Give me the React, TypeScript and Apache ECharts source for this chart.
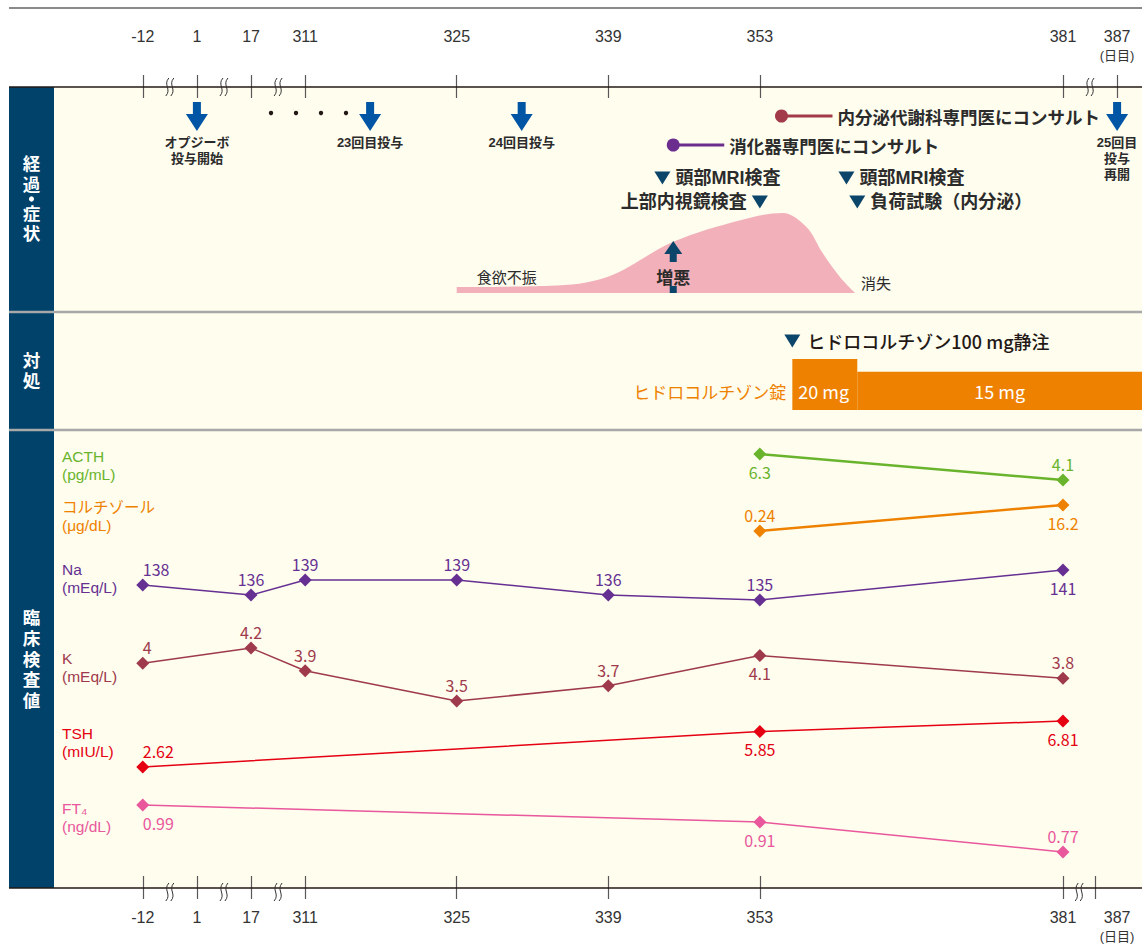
import React, { useEffect, useRef } from 'react';
import * as echarts from 'echarts';

const FONT = "'Noto Sans CJK JP', 'Noto Sans', sans-serif";
// compact-metric stack for tightly stacked lines (CJK glyphs still come from Noto Sans CJK JP)
const TIGHT_FONT = "'Liberation Sans', 'Noto Sans CJK JP', sans-serif";

// ---------- time axis (days) ----------
const TICK_DAYS = [-12, 1, 17, 311, 325, 339, 353, 381, 387];
const EARLY_DAYS = [-12, 1, 17];
const LINEAR_FROM = 311;
const LINEAR_TO = 381;
const LAST_DAY = 387;

// ---------- 経過・症状 ----------
const DOSE_DAYS = [1, 317, 331, 387];
const DOSE_LABELS = ['オプジーボ\n投与開始', '23回目投与', '24回目投与', '25回目\n投与\n再開'];
const CONSULT_DAYS = [355, 345];
const CONSULT_LABELS = ['内分泌代謝科専門医にコンサルト', '消化器専門医にコンサルト'];
const EXAM_DAYS = [344, 353, 361, 362];
const EXAM_LABELS = ['頭部MRI検査', '上部内視鏡検査', '頭部MRI検査', '負荷試験（内分泌）'];
const APPETITE_DAYS = [325, 333.6, 338.9, 345, 351.2, 355.1, 357.3, 358.8, 360.4, 361.8];
const APPETITE_LEVEL = [0.75, 0.9, 2, 6.4, 9.1, 10, 8.25, 5, 2, 0];
const APPETITE_LABELS = ['食欲不振', '消失'];
const WORSEN_DAY = 345;
const WORSEN_LABEL = '増悪';

// ---------- 対処 ----------
const IV_DAYS = [356];
const IV_LABELS = ['ヒドロコルチゾン100 mg静注'];
const TABLET_NAME = 'ヒドロコルチゾン錠';
const TABLET_START = [356, 362];
const TABLET_MG = [20, 15];

// ---------- 臨床検査値 ----------
const ACTH_DAYS = [353, 381];
const ACTH = [6.3, 4.1];
const CORT_DAYS = [353, 381];
const CORT = [0.24, 16.2];
const NA_DAYS = [-12, 17, 311, 325, 339, 353, 381];
const NA = [138, 136, 139, 139, 136, 135, 141];
const K_DAYS = [-12, 17, 311, 325, 339, 353, 381];
const K = [4, 4.2, 3.9, 3.5, 3.7, 4.1, 3.8];
const TSH_DAYS = [-12, 353, 381];
const TSH = [2.62, 5.85, 6.81];
const FT4_DAYS = [-12, 353, 381];
const FT4 = [0.99, 0.91, 0.77];

const SECTION_LABELS = ['経過・症状', '対処', '臨床検査値'];

// ---------- layout / style ----------
const BREAK_SPAN = 5; // display-days taken by one axis break
const X_MIN = 287.8;
const X_MAX = 388.3;
const LEFT = 54;
const WIDTH = 1088;
const NAVY = '#01426a';
const MARK = '#0b456a';
const BLUE = '#0055a5';
const DARK = '#2b2b2b';
const CREAM = '#fefdee';
const TICK_COLOR = '#595757';
const SECTION_CHAR_Y = [
  [164, 185, 199, 214, 234],
  [361, 381],
  [618, 639, 660, 680, 701],
];

// broken time axis: day -> display value
function dv(day: number): number {
  if (day >= LINEAR_FROM && day <= LINEAR_TO) return day;
  if (day > LINEAR_TO) return LINEAR_TO + ((day - LINEAR_TO) * BREAK_SPAN) / (LAST_DAY - LINEAR_TO);
  const anchors = [...EARLY_DAYS, LINEAR_FROM];
  const n = anchors.length;
  for (let i = 0; i < n - 1; i++) {
    if (day >= anchors[i] && day <= anchors[i + 1]) {
      const a = LINEAR_FROM - (n - 1 - i) * BREAK_SPAN;
      return a + ((day - anchors[i]) / (anchors[i + 1] - anchors[i])) * BREAK_SPAN;
    }
  }
  return LINEAR_FROM - (n - 1) * BREAK_SPAN;
}
const xPx = (v: number) => LEFT + ((v - X_MIN) / (X_MAX - X_MIN)) * WIDTH;

const tickLabel = (v: number) => {
  const i = TICK_DAYS.findIndex((d) => Math.abs(dv(d) - v) < 1e-6);
  if (i < 0) return '';
  const d = TICK_DAYS[i];
  return d === LAST_DAY ? `${d}\n{u|(日目)}` : String(d);
};

const LABS = [
  { name: 'ACTH', unit: '(pg/mL)', days: ACTH_DAYS, vals: ACTH, color: '#6ab42d', width: 2.5, pos: ['bottom', 'top'], labelY: 456 },
  { name: 'コルチゾール', unit: '(μg/dL)', days: CORT_DAYS, vals: CORT, color: '#ee8200', width: 2.5, pos: ['top', 'bottom'], labelY: 507 },
  { name: 'Na', unit: '(mEq/L)', days: NA_DAYS, vals: NA, color: '#663092', width: 1.5, pos: ['top', 'top', 'top', 'top', 'top', 'top', 'bottom'], labelY: 569 },
  { name: 'K', unit: '(mEq/L)', days: K_DAYS, vals: K, color: '#9e3a4c', width: 1.5, pos: ['top', 'top', 'top', 'top', 'top', 'bottom', 'top'], labelY: 658 },
  { name: 'TSH', unit: '(mIU/L)', days: TSH_DAYS, vals: TSH, color: '#e50012', width: 1.5, pos: ['top', 'bottom', 'bottom'], labelY: 733 },
  { name: 'FT₄', unit: '(ng/dL)', days: FT4_DAYS, vals: FT4, color: '#e9579c', width: 1.5, pos: ['bottom', 'bottom', 'top'], labelY: 808 },
];

function buildOption() {
  const gridDefs = [
    { top: 87, height: 225 }, // 0 course
    { top: 213, height: 80 }, // 1 appetite
    { top: 312, height: 118 }, // 2 treatment
    { top: 359, height: 51 }, // 3 tablets
    { top: 454, height: 26 }, // 4 ACTH
    { top: 505, height: 26 }, // 5 cortisol
    { top: 570, height: 30 }, // 6 Na
    { top: 648, height: 53 }, // 7 K
    { top: 721, height: 46 }, // 8 TSH
    { top: 805, height: 47 }, // 9 FT4
    { top: 430, height: 458 }, // 10 lab frame
  ];
  const grid = gridDefs.map((g) => ({ ...g, left: LEFT, width: WIDTH, show: false }));

  const tickVals = TICK_DAYS.map(dv);
  const bottomTickVals = TICK_DAYS.map((d) => (d === LAST_DAY ? dv(LINEAR_TO) + 3 : dv(d)));

  const labelStyle = {
    show: true,
    customValues: tickVals,
    formatter: tickLabel,
    fontSize: 16,
    lineHeight: 19,
    color: '#333',
    fontFamily: TIGHT_FONT,
    rich: { u: { fontSize: 13, lineHeight: 19, color: '#333', fontFamily: TIGHT_FONT } },
  };

  const visAxis = (gridIndex: number, position: string, inside: boolean, length: number, ticks: number[], label: any) => ({
    type: 'value',
    gridIndex,
    position,
    min: X_MIN,
    max: X_MAX,
    show: true,
    axisLine: { show: false, onZero: false },
    splitLine: { show: false },
    axisTick: { show: true, inside, length, customValues: ticks, lineStyle: { color: TICK_COLOR, width: 1.2 } },
    axisLabel: label,
  });
  const hiddenAxis = (gridIndex: number) => ({ type: 'value', gridIndex, min: X_MIN, max: X_MAX, show: false });

  const xAxis: any[] = [
    visAxis(0, 'top', false, 12, tickVals, { ...labelStyle, verticalAlign: 'top', margin: 60 }),
    hiddenAxis(1),
    hiddenAxis(2),
    hiddenAxis(3),
    hiddenAxis(4),
    hiddenAxis(5),
    hiddenAxis(6),
    hiddenAxis(7),
    hiddenAxis(8),
    hiddenAxis(9),
    visAxis(10, 'bottom', false, 11, bottomTickVals, { ...labelStyle, margin: 20 }),
    visAxis(0, 'top', true, 11, tickVals, { show: false }),
    visAxis(10, 'bottom', true, 12, bottomTickVals, { show: false }),
  ];

  const yAxis: any[] = [
    { gridIndex: 0, type: 'value', min: 0, max: 225, inverse: true, show: false },
    { gridIndex: 1, type: 'value', min: 0, max: Math.max(...APPETITE_LEVEL), show: false },
    { gridIndex: 2, type: 'value', min: 0, max: 118, inverse: true, show: false },
    { gridIndex: 3, type: 'value', min: 0, max: Math.max(...TABLET_MG), show: false },
    ...LABS.map((l, i) => ({ gridIndex: 4 + i, type: 'value', min: Math.min(...l.vals), max: Math.max(...l.vals), show: false })),
    { gridIndex: 10, type: 'value', min: 0, max: 1, show: false },
  ];

  // row positions inside the course grid (px from its top)
  const DOSE_ROW = 29.5;
  const CONSULT_ROWS = [29, 58];
  const CONSULT_COLORS = ['#a23a49', '#6c2e8e'];
  const EXAM_ROWS = [91, 115, 91, 115];
  const EXAM_SIDE = ['right', 'left', 'right', 'right'];
  const WORSEN_TIP = 154;
  const IV_ROW = 29;

  const series: any[] = [
    // appetite curve
    {
      type: 'line',
      xAxisIndex: 1,
      yAxisIndex: 1,
      data: APPETITE_DAYS.map((d, i) => [dv(d), APPETITE_LEVEL[i]]),
      smooth: 0.35,
      showSymbol: false,
      symbol: 'none',
      lineStyle: { width: 0, color: '#f2b1ba' },
      areaStyle: { color: '#f2b1ba', opacity: 1 },
      z: 1,
      silent: true,
    },
    // Opdivo doses
    {
      type: 'scatter',
      xAxisIndex: 0,
      yAxisIndex: 0,
      symbol: 'path://M7,0H15V12H22L11,29L0,12H7Z',
      symbolSize: [22, 29],
      itemStyle: { color: BLUE, opacity: 1 },
      clip: false,
      label: {
        show: true,
        position: 'bottom',
        distance: 3,
        fontSize: 13,
        lineHeight: 16,
        fontWeight: 'bold',
        color: DARK,
        fontFamily: TIGHT_FONT,
        align: 'center',
      },
      data: DOSE_DAYS.map((d, i) => ({ value: [dv(d), DOSE_ROW], label: { formatter: DOSE_LABELS[i] } })),
    },
    // consultations
    {
      type: 'custom',
      xAxisIndex: 0,
      yAxisIndex: 0,
      clip: false,
      data: CONSULT_DAYS.map((d, i) => [dv(d), CONSULT_ROWS[i], i]),
      renderItem: (params: any, api: any) => {
        const p = api.coord([api.value(0), api.value(1)]);
        const i = api.value(2);
        const c = CONSULT_COLORS[i];
        return {
          type: 'group',
          children: [
            { type: 'line', shape: { x1: p[0], y1: p[1], x2: p[0] + 51, y2: p[1] }, style: { stroke: c, lineWidth: 3 } },
            { type: 'circle', shape: { cx: p[0], cy: p[1], r: 6.5 }, style: { fill: c } },
            {
              type: 'text',
              x: p[0] + 56,
              y: p[1],
              style: { text: CONSULT_LABELS[i], fontSize: 17.5, fontWeight: 'bold', fill: DARK, fontFamily: FONT, align: 'left', verticalAlign: 'middle' },
            },
          ],
        };
      },
    },
    // examinations
    {
      type: 'scatter',
      xAxisIndex: 0,
      yAxisIndex: 0,
      symbol: 'triangle',
      symbolRotate: 180,
      symbolSize: [16, 13],
      itemStyle: { color: MARK, opacity: 1 },
      clip: false,
      label: { show: true, distance: 5, fontSize: 18, fontWeight: 'bold', color: DARK, fontFamily: TIGHT_FONT },
      data: EXAM_DAYS.map((d, i) => ({ value: [dv(d), EXAM_ROWS[i]], label: { position: EXAM_SIDE[i], formatter: EXAM_LABELS[i] } })),
    },
    // worsening arrow
    {
      type: 'custom',
      xAxisIndex: 0,
      yAxisIndex: 0,
      clip: false,
      z: 3,
      data: [[dv(WORSEN_DAY), WORSEN_TIP]],
      renderItem: (params: any, api: any) => {
        const p = api.coord([api.value(0), api.value(1)]);
        const x = p[0];
        const y = p[1];
        return {
          type: 'group',
          children: [
            { type: 'polygon', shape: { points: [[x, y], [x + 9, y + 13], [x - 9, y + 13]] }, style: { fill: MARK } },
            { type: 'rect', shape: { x: x - 3.5, y: y + 12, width: 7, height: 9 }, style: { fill: MARK } },
            {
              type: 'text',
              x,
              y: y + 35,
              style: { text: WORSEN_LABEL, fontSize: 17, fontWeight: 'bold', fill: DARK, fontFamily: FONT, align: 'center', verticalAlign: 'middle' },
            },
            { type: 'rect', shape: { x: x - 3.5, y: y + 45, width: 7, height: 7 }, style: { fill: MARK } },
          ],
        };
      },
    },
    // IV hydrocortisone
    {
      type: 'scatter',
      xAxisIndex: 2,
      yAxisIndex: 2,
      symbol: 'triangle',
      symbolRotate: 180,
      symbolSize: [16, 13],
      itemStyle: { color: MARK, opacity: 1 },
      clip: false,
      label: { show: true, position: 'right', distance: 7, fontSize: 18, color: '#231815', fontFamily: FONT, fontWeight: 500 },
      data: IV_DAYS.map((d, i) => ({ value: [dv(d), IV_ROW], label: { formatter: IV_LABELS[i] } })),
    },
    // tablets
    {
      type: 'custom',
      xAxisIndex: 3,
      yAxisIndex: 3,
      clip: false,
      encode: { x: [0, 1], y: 2 },
      data: TABLET_START.map((s, i) => [dv(s), i < TABLET_START.length - 1 ? dv(TABLET_START[i + 1]) : X_MAX, TABLET_MG[i], i]),
      renderItem: (params: any, api: any) => {
        const p0 = api.coord([api.value(0), 0]);
        const p1 = api.coord([api.value(1), api.value(2)]);
        const i = api.value(3);
        const ty = p0[1] - 19;
        const children: any[] = [
          { type: 'rect', shape: { x: p0[0], y: p1[1], width: p1[0] - p0[0], height: p0[1] - p1[1] }, style: { fill: '#ee8200' } },
          {
            type: 'text',
            x: i === 0 ? p0[0] + 6 : (p0[0] + p1[0]) / 2,
            y: ty,
            style: { text: `${TABLET_MG[i]} mg`, fontSize: 18, fill: '#fff', fontFamily: FONT, align: i === 0 ? 'left' : 'center', verticalAlign: 'middle' },
          },
        ];
        if (i === 0) {
          children.push({
            type: 'text',
            x: p0[0] - 6,
            y: ty,
            style: { text: TABLET_NAME, fontSize: 17, fill: '#ee8200', fontFamily: FONT, align: 'right', verticalAlign: 'middle' },
          });
        }
        return { type: 'group', children };
      },
    },
    // labs
    ...LABS.map((l, k) => ({
      type: 'line',
      xAxisIndex: 4 + k,
      yAxisIndex: 4 + k,
      clip: false,
      symbol: 'diamond',
      symbolSize: 13,
      lineStyle: { color: l.color, width: l.width },
      itemStyle: { color: l.color },
      label: { show: true, fontSize: 16, lineHeight: 16, color: l.color, fontFamily: FONT, formatter: (p: any) => String(p.value[1]) },
      data: l.days.map((d, i) => ({
        value: [dv(d), l.vals[i]],
        label: {
          position: l.pos[i],
          distance: l.pos[i] === 'top' ? 1.5 : 3,
          align: d === TICK_DAYS[0] ? 'left' : 'center',
        },
      })),
    })),
  ];

  // ---------- decorative graphics ----------
  const g: any[] = [];
  g.push({ type: 'line', z: -5, shape: { x1: 9, y1: 8, x2: 1142, y2: 8 }, style: { stroke: '#8a8a8a', lineWidth: 2 } });
  g.push({ type: 'rect', z: -10, shape: { x: LEFT, y: 87, width: WIDTH, height: 801 }, style: { fill: CREAM } });
  g.push({ type: 'rect', z: -9, shape: { x: 9, y: 87, width: LEFT - 9, height: 801 }, style: { fill: NAVY } });
  [312, 430].forEach((y) => g.push({ type: 'line', z: -5, shape: { x1: 9, y1: y, x2: 1142, y2: y }, style: { stroke: '#a8a8a8', lineWidth: 2.5 } }));
  [87, 888].forEach((y) => g.push({ type: 'line', z: 5, shape: { x1: 9, y1: y, x2: 1142, y2: y }, style: { stroke: '#231815', lineWidth: 1.3 } }));

  SECTION_LABELS.forEach((t, i) =>
    t.split('').forEach((ch, j) => {
      const y = SECTION_CHAR_Y[i][j];
      if (ch === '・') {
        g.push({ type: 'circle', z: 5, shape: { cx: 31.5, cy: y, r: 2.6 }, style: { fill: '#fff' } });
      } else {
        g.push({
          type: 'text',
          z: 5,
          x: 31.5,
          y,
          style: { text: ch, fontSize: 17.5, lineHeight: 18, fontWeight: 'bold', fill: '#fff', fontFamily: TIGHT_FONT, align: 'center', verticalAlign: 'middle' },
        });
      }
    })
  );

  LABS.forEach((l) =>
    [l.name, l.unit].forEach((t, j) =>
      g.push({
        type: 'text',
        z: 5,
        x: 62,
        y: l.labelY + j * 18,
        style: { text: t, fontSize: 15.5, lineHeight: 16, fill: l.color, fontFamily: TIGHT_FONT, align: 'left', verticalAlign: 'middle' },
      })
    )
  );

  const squiggle = (x: number, y: number) =>
    [-2.5, 2.5].forEach((dx) =>
      g.push({
        type: 'bezierCurve',
        z: 6,
        shape: { x1: x + dx + 1.5, y1: y - 9, cpx1: x + dx - 4.5, cpy1: y - 2, cpx2: x + dx + 4.5, cpy2: y + 2, x2: x + dx - 1.5, y2: y + 9 },
        style: { stroke: '#333', lineWidth: 1, fill: 'none' },
      })
    );
  const breakPairs = [[0, 1], [1, 2], [2, 3], [7, 8]];
  breakPairs.forEach(([a, b]) => {
    squiggle(xPx((tickVals[a] + tickVals[b]) / 2), 87);
    squiggle(xPx((bottomTickVals[a] + bottomTickVals[b]) / 2), 892);
  });

  [271, 296, 321, 346].forEach((x) => g.push({ type: 'circle', z: 5, shape: { cx: x, cy: 113, r: 2.2 }, style: { fill: '#231815' } }));

  const a0 = xPx(dv(APPETITE_DAYS[0]));
  const a1 = xPx(dv(APPETITE_DAYS[APPETITE_DAYS.length - 1]));
  g.push({ type: 'text', z: 5, x: a0 + 50, y: 276, style: { text: APPETITE_LABELS[0], fontSize: 15, fill: DARK, fontFamily: FONT, align: 'center', verticalAlign: 'middle' } });
  g.push({ type: 'text', z: 5, x: a1 + 21, y: 282, style: { text: APPETITE_LABELS[1], fontSize: 15, fill: DARK, fontFamily: FONT, align: 'center', verticalAlign: 'middle' } });

  return {
    animation: false,
    backgroundColor: '#fff',
    textStyle: { fontFamily: FONT },
    grid,
    xAxis,
    yAxis,
    series,
    graphic: { elements: g },
  };
}

export default function App() {
  const ref = useRef<HTMLDivElement>(null);
  useEffect(() => {
    document.body.style.margin = '0';
    const chart = echarts.init(ref.current as HTMLDivElement, undefined, { renderer: 'svg' });
    chart.setOption(buildOption() as any);
    return () => chart.dispose();
  }, []);
  return <div ref={ref} style={{ width: 1142, height: 947 }} />;
}
